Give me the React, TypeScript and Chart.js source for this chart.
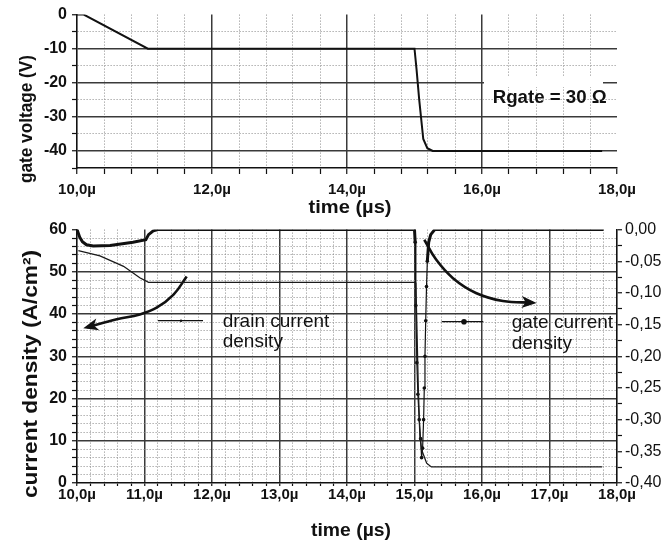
import React, { useEffect, useRef } from 'react';
import { Chart, registerables } from 'chart.js';

Chart.register(...registerables);

const FONT = "'Liberation Sans', Arial, Helvetica, sans-serif";

// ---------- top panel: gate voltage (V) vs time (µs) ----------
const vgTime = [10.0, 10.1, 11.05, 15.0, 15.03, 15.07, 15.13, 15.19, 15.27, 17.78];
const vgValue = [0, 0, -10, -10, -16, -25, -36.5, -39.2, -40, -40];

// ---------- bottom panel ----------
// drain current density (A/cm²), left axis
const drainTime = [10.02, 10.34, 10.69, 10.93, 11.06, 15.0, 15.02, 15.03, 15.056, 15.08, 15.107, 15.18, 15.25, 17.78];
const drainValue = [55.0, 53.8, 51.3, 48.6, 47.5, 47.5, 47.3, 40.7, 22.7, 10.9, 7.8, 4.7, 3.8, 3.8];

// gate current density, right axis
const gateTime = [10.0, 10.04, 10.08, 10.14, 10.24, 10.49, 10.83, 11.02, 11.06, 11.13, 11.2, 15.0, 15.01, 15.02, 15.035, 15.05, 15.07, 15.09, 15.105, 15.12, 15.135, 15.145, 15.155, 15.166, 15.178, 15.19, 15.21, 15.24, 15.3, 17.8];
const gateValue = [0, -0.012, -0.019, -0.024, -0.026, -0.025, -0.02, -0.016, -0.008, -0.002, 0, 0, -0.02, -0.12, -0.21, -0.26, -0.3, -0.33, -0.36, -0.345, -0.3, -0.25, -0.2, -0.144, -0.09, -0.05, -0.02, -0.008, 0, 0];

// annotation arrows (in left-axis units)
const arrowLeftTime = [11.625, 11.43, 11.18, 10.93, 10.59, 10.15];
const arrowLeftValue = [48.9, 44.6, 41.5, 39.9, 38.75, 36.9];
const arrowRightTime = [15.145, 15.32, 15.57, 15.91, 16.31, 16.75];
const arrowRightValue = [57.6, 52.9, 48.5, 45.0, 43.1, 42.7];

// tick labels / major ticks
const topTimeMajor = [10, 12, 14, 16, 18];
const topVoltMajor = [0, -10, -20, -30, -40];
const botTimeMajor = [10, 11, 12, 13, 14, 15, 16, 17, 18];
const botLeftMajor = [0, 10, 20, 30, 40, 50, 60];
const botRightMajor = [0, -0.05, -0.1, -0.15, -0.2, -0.25, -0.3, -0.35, -0.4];

const near = (a: number, b: number) => Math.abs(a - b) < 1e-6;
const isIn = (arr: number[], v: number) => arr.some((a) => near(a, v));
const fmtTime = (v: number) => v.toFixed(1).replace('.', ',') + 'µ';
const fmtRight = (v: number) => (near(v, 0) ? '0,00' : v.toFixed(2).replace('.', ','));

const MAJOR_COLOR = '#3a3a3a';
const MINOR_COLOR = '#8a8a8a';

function gridOpts(major: number[], edges: number[], tickLength: number, onArea = true) {
  return {
    drawOnChartArea: onArea,
    color: (c: any) => {
      const v = c.tick ? c.tick.value : undefined;
      if (v === undefined) return 'rgba(0,0,0,0)';
      if (isIn(edges, v)) return 'rgba(0,0,0,0)';
      return isIn(major, v) ? MAJOR_COLOR : MINOR_COLOR;
    },
    lineWidth: (c: any) => (c.tick && isIn(major, c.tick.value) ? 1.5 : 1),
    tickLength,
    tickColor: '#111',
    tickWidth: 1.2,
  };
}

function borderOpts(major: number[]) {
  return {
    color: '#111',
    width: 1.6,
    dash: (c: any) => (c.tick && !isIn(major, c.tick.value) ? [1, 2] : []),
  };
}

function drawText(ctx: CanvasRenderingContext2D, text: string, x: number, y: number, font: string, o: any = {}) {
  ctx.save();
  ctx.translate(x, y);
  if (o.rotate) ctx.rotate(o.rotate);
  ctx.font = font;
  ctx.fillStyle = o.color || '#111';
  ctx.textAlign = o.align || 'center';
  ctx.textBaseline = o.baseline || 'middle';
  if (o.width) {
    const w = ctx.measureText(text).width;
    ctx.scale(o.width / w, 1);
  }
  ctx.fillText(text, 0, 0);
  ctx.restore();
}

const topDecor = {
  id: 'topDecor',
  afterDraw(chart: any) {
    const ctx = chart.ctx as CanvasRenderingContext2D;
    ctx.save();
    ctx.fillStyle = '#fff';
    ctx.fillRect(484, 77, 119, 10);
    ctx.restore();
    drawText(ctx, 'Rgate = 30 Ω', 549.7, 98, `bold 19px ${FONT}`, { width: 114 });
    drawText(ctx, 'gate voltage (V)', 27, 119, `bold 19px ${FONT}`, { rotate: -Math.PI / 2, width: 128 });
    drawText(ctx, 'time (µs)', 350, 208, `bold 19px ${FONT}`, { width: 83 });
  },
};

const bottomDecor = {
  id: 'bottomDecor',
  afterDatasetsDraw(chart: any) {
    const ctx = chart.ctx as CanvasRenderingContext2D;
    chart.data.datasets.forEach((ds: any, i: number) => {
      if (!ds.arrowHead) return;
      const pts = chart.getDatasetMeta(i).data;
      const a = pts[pts.length - 2];
      const b = pts[pts.length - 1];
      const ang = Math.atan2(b.y - a.y, b.x - a.x);
      ctx.save();
      ctx.fillStyle = '#111';
      ctx.translate(b.x, b.y);
      ctx.rotate(ang);
      ctx.beginPath();
      ctx.moveTo(4, 0);
      ctx.lineTo(-11, -6);
      ctx.lineTo(-7, 0);
      ctx.lineTo(-11, 6);
      ctx.closePath();
      ctx.fill();
      ctx.restore();
    });
  },
  afterDraw(chart: any) {
    const ctx = chart.ctx as CanvasRenderingContext2D;
    // legend samples
    ctx.save();
    ctx.strokeStyle = '#111';
    ctx.lineWidth = 1.3;
    ctx.beginPath();
    ctx.moveTo(158, 105.7);
    ctx.lineTo(203, 105.7);
    ctx.stroke();
    ctx.beginPath();
    ctx.moveTo(441.7, 106.7);
    ctx.lineTo(483.3, 106.7);
    ctx.stroke();
    ctx.fillStyle = '#111';
    ctx.beginPath();
    ctx.arc(181, 105.7, 1.2, 0, Math.PI * 2);
    ctx.fill();
    ctx.beginPath();
    ctx.arc(464, 106.7, 2.8, 0, Math.PI * 2);
    ctx.fill();
    ctx.restore();
    const lf = `19px ${FONT}`;
    drawText(ctx, 'drain current', 222.7, 112, lf, { align: 'left', baseline: 'alphabetic' });
    drawText(ctx, 'density', 222.7, 131.7, lf, { align: 'left', baseline: 'alphabetic' });
    drawText(ctx, 'gate current', 511.7, 113, lf, { align: 'left', baseline: 'alphabetic' });
    drawText(ctx, 'density', 511.7, 134, lf, { align: 'left', baseline: 'alphabetic' });
    // titles
    drawText(ctx, 'current density (A/cm²)', 31, 159, `bold 20px ${FONT}`, { rotate: -Math.PI / 2, width: 248 });
    drawText(ctx, 'time (µs)', 351, 316, `bold 19px ${FONT}`, { width: 80 });
  },
};

const toXY = (xs: number[], ys: number[]) => xs.map((x, i) => ({ x, y: ys[i] }));
const inDip = (x: number) => x > 15.005 && x < 15.2;

function topConfig(): any {
  return {
    type: 'line',
    data: {
      datasets: [
        {
          data: toXY(vgTime, vgValue),
          borderColor: '#111',
          borderWidth: 2,
          pointRadius: 0,
          fill: false,
          tension: 0,
        },
      ],
    },
    options: {
      responsive: false,
      animation: false,
      devicePixelRatio: 1,
      events: [],
      layout: { padding: { top: 12, right: 55, left: 0, bottom: 0 } },
      plugins: { legend: { display: false }, tooltip: { enabled: false } },
      scales: {
        x: {
          type: 'linear',
          min: 10,
          max: 18,
          ticks: {
            stepSize: 0.4,
            autoSkip: false,
            maxRotation: 0,
            padding: 7,
            color: '#111',
            font: { family: FONT, size: 15, weight: 'bold' },
            callback: (v: number) => (isIn(topTimeMajor, v) ? fmtTime(v) : ''),
          },
          grid: gridOpts(topTimeMajor, [10, 18], 6),
          border: borderOpts(topTimeMajor),
          afterFit: (s: any) => {
            s.height = 57;
          },
        },
        y: {
          type: 'linear',
          min: -45,
          max: 0,
          ticks: {
            stepSize: 5,
            autoSkip: false,
            padding: 5,
            color: '#111',
            font: { family: FONT, size: 16, weight: 'bold' },
            callback: (v: number) => (isIn(topVoltMajor, v) ? String(Math.round(v)) : ''),
          },
          grid: gridOpts(topVoltMajor, [0, -45], 5),
          border: borderOpts(topVoltMajor),
          afterFit: (s: any) => {
            s.width = 77;
          },
        },
      },
    },
    plugins: [topDecor],
  };
}

function botConfig(): any {
  return {
    type: 'line',
    data: {
      datasets: [
        {
          label: 'drain current density',
          data: toXY(drainTime, drainValue),
          yAxisID: 'y',
          borderColor: '#1a1a1a',
          borderWidth: 1.3,
          pointRadius: 0,
          fill: false,
          tension: 0,
        },
        {
          label: 'gate current density',
          data: toXY(gateTime, gateValue),
          yAxisID: 'y1',
          borderColor: '#111',
          backgroundColor: '#111',
          borderWidth: 3,
          pointRadius: (c: any) => (c.raw && inDip(c.raw.x) ? 1.8 : 0),
          pointBorderWidth: 0,
          fill: false,
          tension: 0,
          segment: {
            borderWidth: (c: any) => (inDip(c.p0.parsed.x) && inDip(c.p1.parsed.x) ? 1.2 : 3),
          },
        },
        {
          data: toXY(arrowLeftTime, arrowLeftValue),
          yAxisID: 'y',
          borderColor: '#111',
          borderWidth: 2.6,
          pointRadius: 0,
          fill: false,
          tension: 0.4,
          arrowHead: true,
        },
        {
          data: toXY(arrowRightTime, arrowRightValue),
          yAxisID: 'y',
          borderColor: '#111',
          borderWidth: 2.6,
          pointRadius: 0,
          fill: false,
          tension: 0.4,
          arrowHead: true,
        },
      ],
    },
    options: {
      responsive: false,
      animation: false,
      devicePixelRatio: 1,
      events: [],
      layout: { padding: { top: 13, right: 0, left: 0, bottom: 0 } },
      plugins: { legend: { display: false }, tooltip: { enabled: false } },
      scales: {
        x: {
          type: 'linear',
          min: 10,
          max: 18,
          ticks: {
            stepSize: 0.2,
            autoSkip: false,
            maxRotation: 0,
            padding: 0,
            color: '#111',
            font: { family: FONT, size: 15, weight: 'bold' },
            callback: (v: number) => (isIn(botTimeMajor, v) ? fmtTime(v) : ''),
          },
          grid: gridOpts(botTimeMajor, [10, 18], 3),
          border: borderOpts(botTimeMajor),
          afterFit: (s: any) => {
            s.height = 66;
          },
        },
        y: {
          type: 'linear',
          position: 'left',
          min: 0,
          max: 60,
          ticks: {
            stepSize: 2,
            autoSkip: false,
            padding: 5,
            color: '#111',
            font: { family: FONT, size: 16, weight: 'bold' },
            callback: (v: number) => (isIn(botLeftMajor, v) ? String(Math.round(v)) : ''),
          },
          grid: gridOpts(botLeftMajor, [0, 60], 5),
          border: borderOpts(botLeftMajor),
          afterFit: (s: any) => {
            s.width = 77;
          },
        },
        y1: {
          type: 'linear',
          position: 'right',
          min: -0.4,
          max: 0,
          ticks: {
            stepSize: 0.025,
            autoSkip: false,
            padding: 3,
            color: '#111',
            font: { family: FONT, size: 16 },
            callback: (v: number) => (isIn(botRightMajor, v) ? fmtRight(v) : ''),
          },
          grid: gridOpts(botRightMajor, [], 5, false),
          border: { color: '#111', width: 1.6 },
          afterFit: (s: any) => {
            s.width = 55;
          },
        },
      },
    },
    plugins: [bottomDecor],
  };
}

export default function App() {
  const topRef = useRef<HTMLCanvasElement>(null);
  const botRef = useRef<HTMLCanvasElement>(null);
  useEffect(() => {
    const c1 = new Chart(topRef.current as HTMLCanvasElement, topConfig());
    const c2 = new Chart(botRef.current as HTMLCanvasElement, botConfig());
    return () => {
      c1.destroy();
      c2.destroy();
    };
  }, []);
  return (
    <div style={{ position: 'absolute', left: 0, top: 0, width: 672, height: 549, background: '#fff' }}>
      <canvas
        ref={botRef}
        width={672}
        height={334}
        style={{ position: 'absolute', left: 0, top: 215, width: 672, height: 334 }}
      />
      <canvas
        ref={topRef}
        width={672}
        height={225}
        style={{ position: 'absolute', left: 0, top: 0, width: 672, height: 225 }}
      />
    </div>
  );
}
